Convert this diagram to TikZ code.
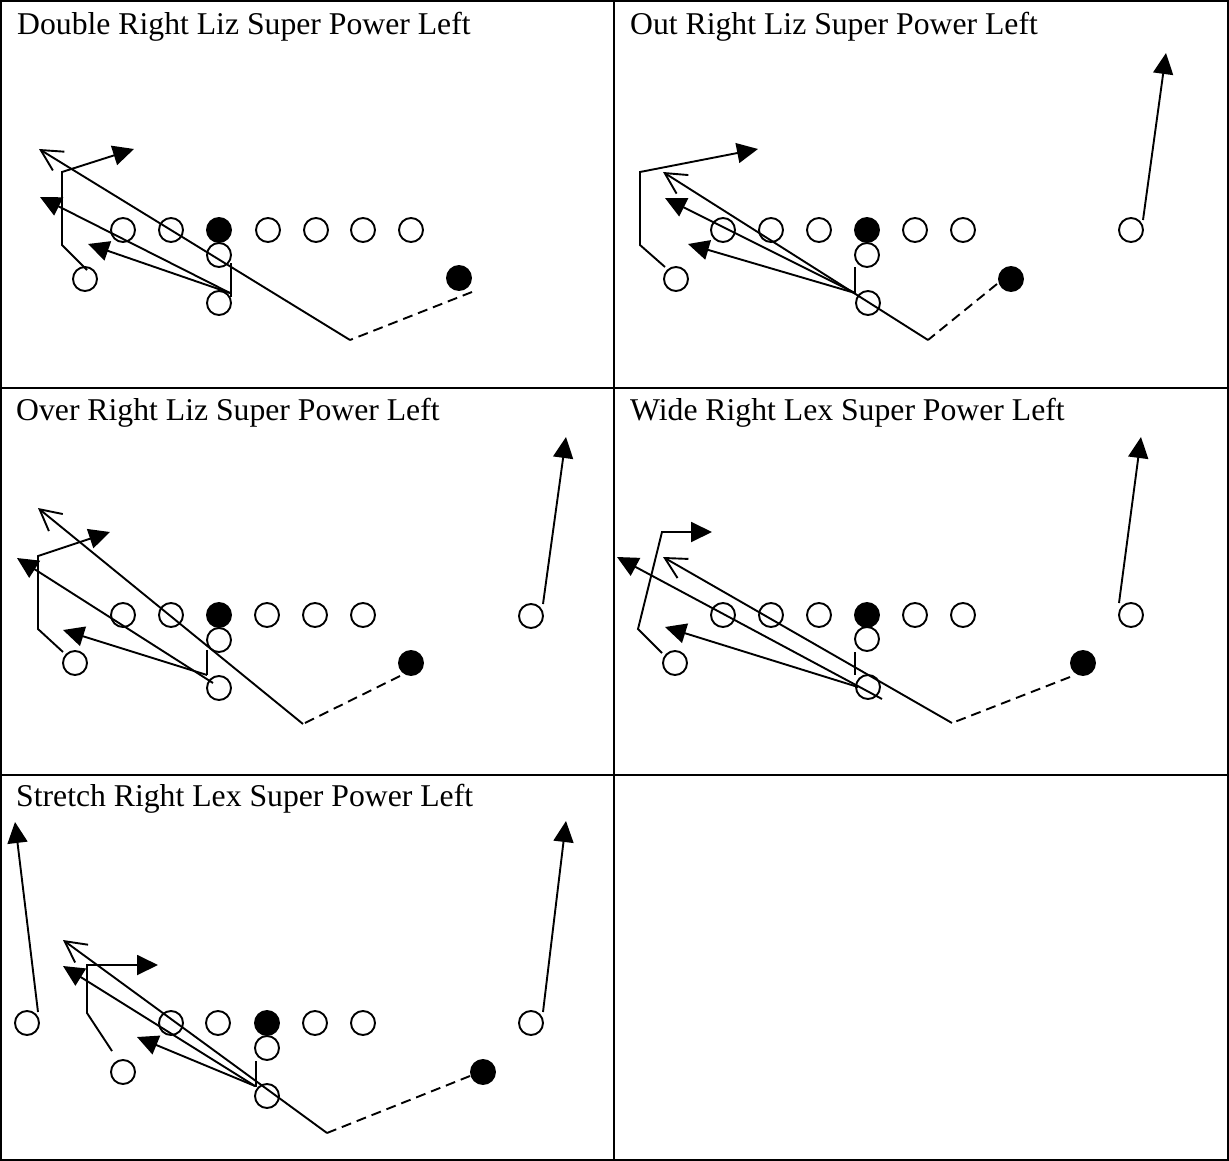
\documentclass[tikz,border=0pt]{standalone}
\usepackage{fontspec}
\setmainfont{Liberation Serif}
\usetikzlibrary{arrows.meta}
\tikzset{
  pl/.style={circle, draw, line width=1.9pt, minimum size=24pt, inner sep=0pt},
  plf/.style={pl, fill=black},
  rt/.style={line width=1.9pt, -{Triangle[length=21pt,width=20pt]}},
  ort/.style={line width=1.9pt, -{Straight Barb[length=21pt,width=22pt,line width=1.9pt]}},
  blk/.style={line width=1.9pt},
  mot/.style={line width=1.9pt, dash pattern=on 10pt off 6pt},
  grid/.style={line width=2.2pt},
  ttl/.style={anchor=base west, inner sep=0pt, font=\fontsize{31.7pt}{38pt}\selectfont}
}
\begin{document}
\begin{tikzpicture}[x=1pt,y=-1pt]
\useasboundingbox (0,0) rectangle (1229,1161);
% table
\coordinate (tl) at (1,1); \coordinate (br) at (1228,1160);
\coordinate (vt) at (614,1); \coordinate (vb) at (614,1160);
\coordinate (h1l) at (1,388); \coordinate (h1r) at (1228,388);
\coordinate (h2l) at (1,775); \coordinate (h2r) at (1228,775);
\draw[grid] (tl) rectangle (br);
\draw[grid] (vt) -- (vb);
\draw[grid] (h1l) -- (h1r);
\draw[grid] (h2l) -- (h2r);
% titles
\node[ttl] (t1) at (17,35) {Double Right Liz Super Power Left};
\node[ttl] (t2) at (630,35) {Out Right Liz Super Power Left};
\node[ttl] (t3) at (16,420) {Over Right Liz Super Power Left};
\node[ttl] (t4) at (630,420) {Wide Right Lex Super Power Left};
\node[ttl] (t5) at (16,806) {Stretch Right Lex Super Power Left};

% ===== Panel 1 =====
\node[pl] (a1) at (123,230) {}; \node[pl] (a2) at (171,230) {};
\node[plf] (ac) at (219,230) {}; \node[pl] (a4) at (268,230) {};
\node[pl] (a5) at (316,230) {}; \node[pl] (a6) at (363,230) {};
\node[pl] (a7) at (411,230) {};
\node[pl] (aq) at (219,255) {}; \node[pl] (ab) at (219,303) {};
\node[pl] (al) at (85,279) {}; \node[plf] (am) at (459,278) {};
\coordinate (am1) at (472,292); \coordinate (am2) at (350,340); \coordinate (am3) at (39,149);
\draw[mot] (am1) -- (am2);
\draw[ort] (am2) -- (am3);
\coordinate (al1) at (87,270); \coordinate (al2) at (62,245); \coordinate (al3) at (62,172); \coordinate (al4) at (134,149);
\draw[rt] (al1) -- (al2) -- (al3) -- (al4);
\coordinate (ab1) at (231,263); \coordinate (ab2) at (231,297);
\draw[blk] (ab1) -- (ab2);
\coordinate (ab3) at (230,293); \coordinate (ab4) at (40,197); \coordinate (ab5) at (88,244);
\draw[rt] (ab3) -- (ab4);
\draw[rt] (ab3) -- (ab5);

% ===== Panel 2 =====
\node[pl] (b1) at (723,230) {}; \node[pl] (b2) at (771,230) {};
\node[pl] (b3) at (819,230) {}; \node[plf] (bc) at (867,230) {};
\node[pl] (b5) at (915,230) {}; \node[pl] (b6) at (963,230) {};
\node[pl] (bw) at (1131,230) {};
\node[pl] (bq) at (867,255) {}; \node[pl] (bb) at (868,303) {};
\node[pl] (bl) at (676,279) {}; \node[plf] (bm) at (1011,279) {};
\coordinate (bw1) at (1143,220); \coordinate (bw2) at (1166,53);
\draw[rt] (bw1) -- (bw2);
\coordinate (bm1) at (997,284); \coordinate (bm2) at (928,340); \coordinate (bm3) at (663,172);
\draw[mot] (bm1) -- (bm2);
\draw[ort] (bm2) -- (bm3);
\coordinate (bl1) at (665,267); \coordinate (bl2) at (640,245); \coordinate (bl3) at (640,172); \coordinate (bl4) at (758,149);
\draw[rt] (bl1) -- (bl2) -- (bl3) -- (bl4);
\coordinate (bb1) at (855,267); \coordinate (bb2) at (855,293);
\draw[blk] (bb1) -- (bb2);
\coordinate (bb3) at (855,293); \coordinate (bb4) at (665,198); \coordinate (bb5) at (688,244);
\draw[rt] (bb3) -- (bb4);
\draw[rt] (bb3) -- (bb5);

% ===== Panel 3 =====
\node[pl] (c1) at (123,615) {}; \node[pl] (c2) at (171,615) {};
\node[plf] (cc) at (219,615) {}; \node[pl] (c4) at (267,615) {};
\node[pl] (c5) at (315,615) {}; \node[pl] (c6) at (363,615) {};
\node[pl] (cw) at (531,616) {};
\node[pl] (cq) at (219,640) {}; \node[pl] (cb) at (219,688) {};
\node[pl] (cl) at (75,663) {}; \node[plf] (cm) at (411,663) {};
\coordinate (cw1) at (543,604); \coordinate (cw2) at (566,437);
\draw[rt] (cw1) -- (cw2);
\coordinate (cm1) at (400,676); \coordinate (cm2) at (303,724); \coordinate (cm3) at (38,508);
\draw[mot] (cm1) -- (cm2);
\draw[ort] (cm2) -- (cm3);
\coordinate (cl1) at (63,652); \coordinate (cl2) at (38,629); \coordinate (cl3) at (38,556); \coordinate (cl4) at (110,532);
\draw[rt] (cl1) -- (cl2) -- (cl3) -- (cl4);
\coordinate (cb1) at (207,650); \coordinate (cb2) at (207,675);
\draw[blk] (cb1) -- (cb2);
\coordinate (cb3) at (207,675); \coordinate (cb4) at (63,630);
\coordinate (cb5) at (213,683); \coordinate (cb6) at (17,558);
\draw[rt] (cb3) -- (cb4);
\draw[rt] (cb5) -- (cb6);

% ===== Panel 4 =====
\node[pl] (d1) at (723,615) {}; \node[pl] (d2) at (771,615) {};
\node[pl] (d3) at (819,615) {}; \node[plf] (dc) at (867,615) {};
\node[pl] (d5) at (915,615) {}; \node[pl] (d6) at (963,615) {};
\node[pl] (dw) at (1131,615) {};
\node[pl] (dq) at (867,639) {}; \node[pl] (db) at (868,687) {};
\node[pl] (dl) at (675,663) {}; \node[plf] (dm) at (1083,663) {};
\coordinate (dw1) at (1119,603); \coordinate (dw2) at (1141,437);
\draw[rt] (dw1) -- (dw2);
\coordinate (dm1) at (1070,677); \coordinate (dm2) at (952,723); \coordinate (dm3) at (663,557);
\draw[mot] (dm1) -- (dm2);
\draw[ort] (dm2) -- (dm3);
\coordinate (dl1) at (662,653); \coordinate (dl2) at (638,629); \coordinate (dl3) at (662,532); \coordinate (dl4) at (712,532);
\draw[rt] (dl1) -- (dl2) -- (dl3) -- (dl4);
\coordinate (db1) at (855,652); \coordinate (db2) at (855,675);
\draw[blk] (db1) -- (db2);
\coordinate (db3) at (882,699); \coordinate (db4) at (617,557);
\coordinate (db5) at (858,687); \coordinate (db6) at (665,627);
\draw[rt] (db3) -- (db4);
\draw[rt] (db5) -- (db6);

% ===== Panel 5 =====
\node[pl] (e0) at (27,1023) {};
\node[pl] (e1) at (171,1023) {}; \node[pl] (e2) at (218,1023) {};
\node[plf] (ec) at (267,1023) {}; \node[pl] (e4) at (315,1023) {};
\node[pl] (e5) at (363,1023) {};
\node[pl] (ew) at (531,1023) {};
\node[pl] (eq) at (267,1048) {}; \node[pl] (eb) at (267,1096) {};
\node[pl] (el) at (123,1072) {}; \node[plf] (em) at (483,1072) {};
\coordinate (ew1) at (543,1012); \coordinate (ew2) at (566,821);
\draw[rt] (ew1) -- (ew2);
\coordinate (e01) at (38,1012); \coordinate (e02) at (15,822);
\draw[rt] (e01) -- (e02);
\coordinate (em1) at (470,1076); \coordinate (em2) at (327,1133); \coordinate (em3) at (63,940);
\draw[mot] (em1) -- (em2);
\draw[ort] (em2) -- (em3);
\coordinate (el1) at (112,1051); \coordinate (el2) at (87,1013); \coordinate (el3) at (87,965); \coordinate (el4) at (158,965);
\draw[rt] (el1) -- (el2) -- (el3) -- (el4);
\coordinate (eb1) at (256,1061); \coordinate (eb2) at (256,1087);
\draw[blk] (eb1) -- (eb2);
\coordinate (eb3) at (255,1086); \coordinate (eb4) at (63,966); \coordinate (eb5) at (137,1037);
\draw[rt] (eb3) -- (eb4);
\draw[rt] (eb3) -- (eb5);
\end{tikzpicture}
\end{document}
